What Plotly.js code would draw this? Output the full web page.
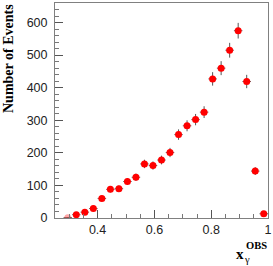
<!DOCTYPE html>
<html>
<head>
<meta charset="utf-8">
<script src="https://cdn.plot.ly/plotly-3.0.1.min.js"></script>
<style>html,body{margin:0;padding:0;background:#fff;}#chart{width:273px;height:266px;}</style>
</head>
<body>
<div id="chart"></div>
<script>
// Bin centres of x_gamma^OBS (bin width 0.03)
var xCenters = [0.295,0.325,0.355,0.385,0.415,0.445,0.475,0.505,0.535,0.565,0.595,0.625,
                0.655,0.685,0.715,0.745,0.775,0.805,0.835,0.865,0.895,0.925,0.955,0.985];
// Number of events per bin
var nEvents = [1,10,18,29,60,88,90,112,125,166,161,178,
               201,256,283,302,325,427,460,515,575,419,144,13];
var binHalfWidth = 0.015;
var statErr = nEvents.map(function(v){ return Math.sqrt(v); });

var yTickVals = [0,100,200,300,400,500,600];
var xTickVals = [0.4,0.6,0.8,1.0];
var xTickText = ['0.4','0.6','0.8','1'];

var markerColors = nEvents.map(function(v){ return v < 5 ? 'rgba(255,0,0,0.35)' : '#ff0000'; });

var trace = {
  x: xCenters, y: nEvents, type: 'scatter', mode: 'markers',
  marker: {color: markerColors, size: 7, line: {width: 0}},
  error_y: {type: 'data', array: statErr, visible: true, color: '#555555', thickness: 1, width: 0},
  error_x: {type: 'constant', value: binHalfWidth, visible: true, color: '#666666', thickness: 1, width: 0},
  hoverinfo: 'none'
};

function px2paperX(px){ return (px-55)/213; }
function px2paperY(py){ return (218-py)/215; }

var serif = 'Liberation Serif, Times New Roman, serif';
var layout = {
  width: 273, height: 266,
  margin: {l: 55, r: 5, t: 3, b: 48},
  paper_bgcolor: '#ffffff', plot_bgcolor: '#ffffff',
  showlegend: false,
  font: {family: 'Liberation Sans, Arial, sans-serif', color: '#222', size: 12.5},
  xaxis: {
    range: [0.25, 1.0], showgrid: false, zeroline: false,
    showline: true, mirror: true, linecolor: '#808080', linewidth: 1,
    ticks: 'inside', ticklen: 8, tickcolor: '#555', tickwidth: 1,
    tickvals: xTickVals, ticktext: xTickText,
    minor: {dtick: 0.05, tick0: 0, ticks: 'inside', ticklen: 4, tickcolor: '#777'},
    tickfont: {size: 12.5}
  },
  yaxis: {
    range: [0, 660], showgrid: false, zeroline: false,
    showline: true, mirror: true, linecolor: '#808080', linewidth: 1,
    ticks: 'inside', ticklen: 8, tickcolor: '#555', tickwidth: 1,
    tickvals: yTickVals,
    minor: {dtick: 20, tick0: 0, ticks: 'inside', ticklen: 4, tickcolor: '#777'},
    tickfont: {size: 12.5},
    ticklabelstandoff: 4
  },
  annotations: [
    {xref: 'paper', yref: 'paper', x: px2paperX(8), y: px2paperY(59), text: '<b>Number of Events</b>', showarrow: false,
     textangle: -90, xanchor: 'center', yanchor: 'middle', font: {family: serif, size: 14, color: '#000'}},
    {xref: 'paper', yref: 'paper', x: px2paperX(240), y: px2paperY(253.5), text: '<b>x</b>', showarrow: false,
     xanchor: 'center', yanchor: 'middle', font: {family: serif, size: 15, color: '#000'}},
    {xref: 'paper', yref: 'paper', x: px2paperX(246.5), y: px2paperY(259.5), text: 'γ', showarrow: false,
     xanchor: 'center', yanchor: 'middle', font: {family: serif, size: 10.5, color: '#000'}},
    {xref: 'paper', yref: 'paper', x: px2paperX(256), y: px2paperY(245.5), text: '<b>OBS</b>', showarrow: false,
     xanchor: 'center', yanchor: 'middle', font: {family: serif, size: 10.5, color: '#000'}}
  ]
};

Plotly.newPlot('chart', [trace], layout, {staticPlot: true, displayModeBar: false});
</script>
</body>
</html>
